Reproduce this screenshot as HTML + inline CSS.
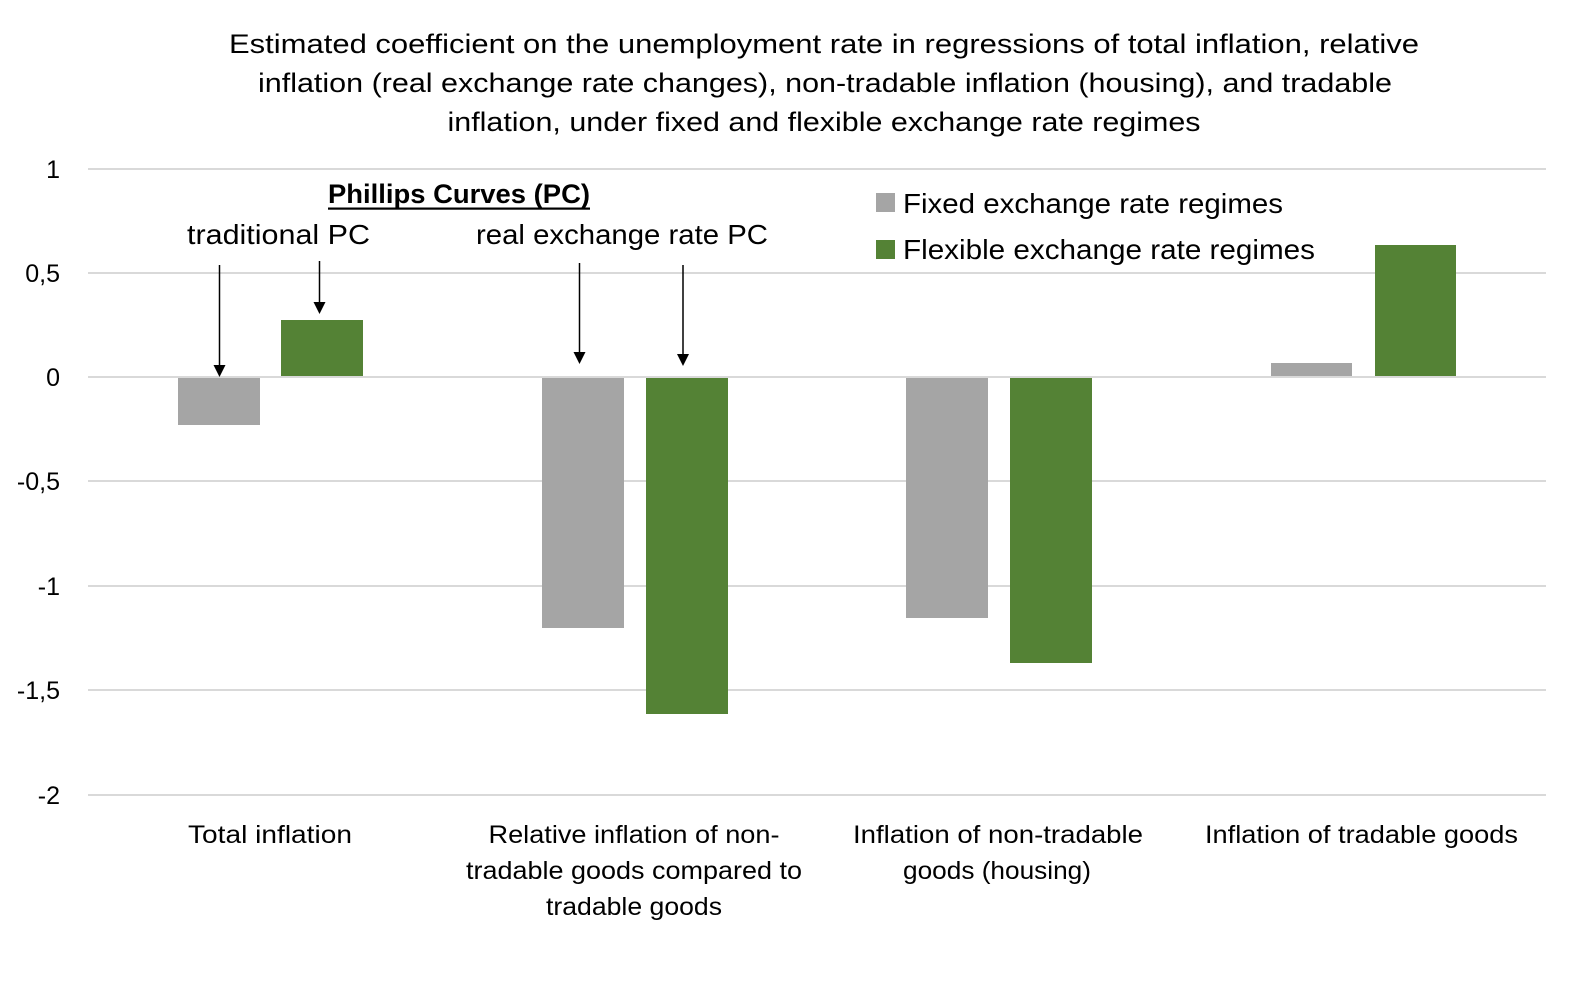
<!DOCTYPE html>
<html>
<head>
<meta charset="utf-8">
<style>
html,body{margin:0;padding:0;background:#fff;}
svg{display:block;}
text{font-family:"Liberation Sans",Arial,sans-serif;fill:#000;}
</style>
</head>
<body>
<svg width="1570" height="999" viewBox="0 0 1570 999" xmlns="http://www.w3.org/2000/svg">
<rect x="0" y="0" width="1570" height="999" fill="#fff"/>

<!-- Title -->
<text x="824" y="53" font-size="27" text-anchor="middle" textLength="1190" lengthAdjust="spacingAndGlyphs">Estimated coefficient on the unemployment  rate in regressions of total inflation, relative</text>
<text x="825" y="92" font-size="27" text-anchor="middle" textLength="1134" lengthAdjust="spacingAndGlyphs">inflation (real exchange rate changes), non-tradable inflation (housing), and tradable</text>
<text x="824" y="131" font-size="27" text-anchor="middle" textLength="753" lengthAdjust="spacingAndGlyphs">inflation, under fixed and flexible exchange rate regimes</text>

<!-- Gridlines -->
<g stroke="#D9D9D9" stroke-width="2">
<line x1="88" y1="169" x2="1546" y2="169"/>
<line x1="88" y1="273" x2="1546" y2="273"/>
<line x1="88" y1="377" x2="1546" y2="377"/>
<line x1="88" y1="481" x2="1546" y2="481"/>
<line x1="88" y1="586" x2="1546" y2="586"/>
<line x1="88" y1="690" x2="1546" y2="690"/>
<line x1="88" y1="795" x2="1546" y2="795"/>
</g>

<!-- Y labels -->
<g font-size="25" text-anchor="end">
<text x="60" y="178">1</text>
<text x="60" y="282">0,5</text>
<text x="60" y="386">0</text>
<text x="60" y="490">-0,5</text>
<text x="60" y="595">-1</text>
<text x="60" y="699">-1,5</text>
<text x="60" y="804">-2</text>
</g>

<!-- Bars -->
<g fill="#A5A5A5">
<rect x="178" y="378" width="82" height="47"/>
<rect x="542" y="378" width="82" height="250"/>
<rect x="906" y="378" width="82" height="240"/>
<rect x="1271" y="363" width="81" height="13"/>
</g>
<g fill="#548235">
<rect x="281" y="320" width="82" height="56"/>
<rect x="646" y="378" width="82" height="336"/>
<rect x="1010" y="378" width="82" height="285"/>
<rect x="1375" y="245" width="81" height="131"/>
</g>

<!-- Arrows -->
<g stroke="#000" stroke-width="1.5">
<line x1="219.5" y1="265" x2="219.5" y2="366"/>
<line x1="319.5" y1="261" x2="319.5" y2="303"/>
<line x1="579.5" y1="263" x2="579.5" y2="353"/>
<line x1="683" y1="265" x2="683" y2="355"/>
</g>
<g fill="#000">
<polygon points="213.5,365 225.5,365 219.5,377"/>
<polygon points="313.5,302 325.5,302 319.5,314"/>
<polygon points="573.5,352 585.5,352 579.5,364"/>
<polygon points="677,354 689,354 683,366"/>
</g>

<!-- Annotations -->
<text x="459" y="203" font-size="27" font-weight="bold" text-anchor="middle" textLength="262" lengthAdjust="spacingAndGlyphs">Phillips Curves (PC)</text>
<rect x="328" y="207.5" width="262" height="2.2" fill="#000"/>
<text x="278.5" y="244" font-size="28" text-anchor="middle" textLength="183" lengthAdjust="spacingAndGlyphs">traditional PC</text>
<text x="622" y="244" font-size="28" text-anchor="middle" textLength="292" lengthAdjust="spacingAndGlyphs">real exchange rate PC</text>

<!-- Legend -->
<rect x="876" y="193" width="19" height="19" fill="#A5A5A5"/>
<rect x="876" y="240" width="19" height="19" fill="#548235"/>
<text x="903" y="213" font-size="28" textLength="380" lengthAdjust="spacingAndGlyphs">Fixed exchange rate regimes</text>
<text x="903" y="259" font-size="28" textLength="412" lengthAdjust="spacingAndGlyphs">Flexible exchange rate regimes</text>

<!-- Category labels -->
<g font-size="25" text-anchor="middle">
<text x="270" y="843" textLength="164" lengthAdjust="spacingAndGlyphs">Total inflation</text>
<text x="634" y="843" textLength="291" lengthAdjust="spacingAndGlyphs">Relative inflation of non-</text>
<text x="634" y="879" textLength="336" lengthAdjust="spacingAndGlyphs">tradable goods compared to</text>
<text x="634" y="915" textLength="176" lengthAdjust="spacingAndGlyphs">tradable goods</text>
<text x="998" y="843" textLength="290" lengthAdjust="spacingAndGlyphs">Inflation of non-tradable</text>
<text x="997" y="879" textLength="188" lengthAdjust="spacingAndGlyphs">goods (housing)</text>
<text x="1361.5" y="843" textLength="313" lengthAdjust="spacingAndGlyphs">Inflation of tradable goods</text>
</g>
</svg>
</body>
</html>
